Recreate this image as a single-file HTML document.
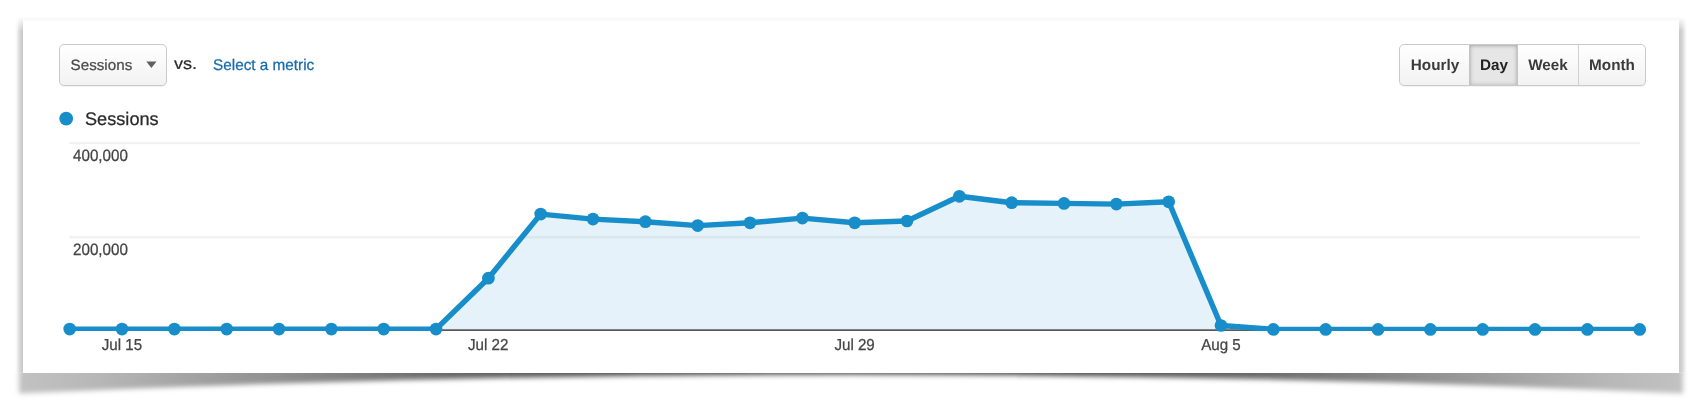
<!DOCTYPE html>
<html><head><meta charset="utf-8"><title>Sessions</title>
<style>
html,body{margin:0;padding:0;background:#fff;}
body{width:1698px;height:418px;position:relative;overflow:hidden;font-family:"Liberation Sans",sans-serif;}
.sh{position:absolute;}
.card{position:absolute;left:23px;top:20.8px;width:1656.2px;height:352.2px;background:#fff;}
.abs{position:absolute;white-space:nowrap;-webkit-text-stroke:0.25px currentColor;text-rendering:geometricPrecision;}
.btn{position:absolute;box-sizing:border-box;border:1px solid #cacaca;border-radius:5px;background:linear-gradient(#ffffff,#f2f2f2);box-shadow:0 1px 1px rgba(0,0,0,.06);}
.seg{position:absolute;top:0;height:100%;box-sizing:border-box;}
</style></head><body>
<svg class="sh" style="left:0;top:0" width="1698" height="418" viewBox="0 0 1698 418">
<defs>
<filter id="b1" x="-5%" y="-50%" width="110%" height="200%"><feGaussianBlur stdDeviation="2.4"/></filter>
<linearGradient id="sg" gradientUnits="userSpaceOnUse" x1="19" y1="0" x2="1683" y2="0">
<stop offset="0" stop-color="#c2c2c2"/><stop offset="0.05" stop-color="#b6b6b6"/><stop offset="0.17" stop-color="#8a8a8a"/><stop offset="0.26" stop-color="#686868"/><stop offset="0.36" stop-color="#505050"/><stop offset="0.5" stop-color="#484848"/>
<stop offset="0.64" stop-color="#505050"/><stop offset="0.74" stop-color="#686868"/><stop offset="0.83" stop-color="#8a8a8a"/><stop offset="0.95" stop-color="#b6b6b6"/><stop offset="1" stop-color="#c2c2c2"/>
</linearGradient>
<linearGradient id="lg" x1="0" y1="0" x2="1" y2="0"><stop offset="0" stop-color="#fff"/><stop offset="0.2" stop-color="#f6f6f6"/><stop offset="0.55" stop-color="#dadada"/><stop offset="1" stop-color="#c4c4c4"/></linearGradient>
<linearGradient id="rg" x1="1" y1="0" x2="0" y2="0"><stop offset="0" stop-color="#fff"/><stop offset="0.2" stop-color="#f6f6f6"/><stop offset="0.55" stop-color="#dadada"/><stop offset="1" stop-color="#c4c4c4"/></linearGradient>
<linearGradient id="vf" gradientUnits="userSpaceOnUse" x1="0" y1="17" x2="0" y2="31"><stop offset="0" stop-color="#000"/><stop offset="1" stop-color="#fff"/></linearGradient>
<linearGradient id="tg" x1="0" y1="0" x2="0" y2="1"><stop offset="0" stop-color="#fff"/><stop offset="0.25" stop-color="#fafafa"/><stop offset="0.75" stop-color="#f9f9f9"/><stop offset="1" stop-color="#fdfdfd"/></linearGradient>
<mask id="vm" maskUnits="userSpaceOnUse" x="0" y="0" width="1698" height="418"><rect x="0" y="0" width="1698" height="418" fill="url(#vf)"/></mask>
<clipPath id="cb"><rect x="0" y="372.5" width="1698" height="46"/></clipPath>
</defs>
<g mask="url(#vm)">
<rect x="15" y="16" width="8.2" height="356.5" fill="url(#lg)"/>
<rect x="1679.1" y="16" width="8.2" height="356.5" fill="url(#rg)"/>
</g>
<rect x="23" y="16.9" width="1656.2" height="4" fill="url(#tg)"/>
<g clip-path="url(#cb)"><path d="M19,340 L19,393.5 Q851,355.5 1683,393.5 L1683,340 Z" fill="url(#sg)" filter="url(#b1)"/></g>
</svg>
<div class="card"></div>

<div class="btn" style="left:59.3px;top:44px;width:107.7px;height:41.5px;"></div>
<svg class="abs" style="left:144px;top:60px" width="14" height="10" viewBox="0 0 14 10"><path d="M2.3,1.6 L12.5,1.6 L7.4,8 Z" fill="#606060"/></svg>

<div class="btn" style="left:1399px;top:44px;width:246.7px;height:41.5px;">
 <div class="seg" style="left:68.7px;width:49.3px;background:#e6e6e6;box-shadow:inset 0 0 5px rgba(0,0,0,.18),inset 0 1px 3px rgba(0,0,0,.15);border-left:1px solid #c4c4c4;border-right:1px solid #c4c4c4;"></div>
 <div class="seg" style="left:178px;width:1px;background:#d0d0d0;"></div>
</div>

<svg class="abs" style="left:0;top:0" width="1698" height="418" viewBox="0 0 1698 418">
<defs><clipPath id="lc"><rect x="0" y="0" width="1698" height="330.95"/></clipPath></defs>
<circle cx="66.2" cy="118.6" r="6.9" fill="#178dc9"/>
<rect x="69" y="141.9" width="1571" height="2.3" fill="#f2f2f2"/>
<rect x="69" y="236.1" width="1571" height="2.3" fill="#f2f2f2"/>
<path d="M69.7,329.5 L69.7,329.1 L122.0,329.1 L174.4,329.1 L226.7,329.1 L279.0,329.1 L331.4,329.1 L383.7,329.1 L436.0,329.1 L488.4,278.2 L540.7,214.1 L593.0,219.1 L645.4,221.7 L697.7,225.6 L750.0,222.8 L802.4,218.1 L854.7,222.8 L907.0,221.0 L959.4,196.3 L1011.7,202.7 L1064.0,203.4 L1116.4,204.1 L1168.7,201.8 L1221.0,325.5 L1273.4,329.4 L1325.7,329.4 L1378.0,329.4 L1430.4,329.4 L1482.7,329.4 L1535.0,329.4 L1587.4,329.4 L1639.7,329.4 L1639.7,329.5 Z" fill="#178dc9" fill-opacity="0.11"/>
<rect x="69" y="329.3" width="1571" height="1.65" fill="#505050"/>
<g clip-path="url(#lc)"><polyline points="69.7,329.1 122.0,329.1 174.4,329.1 226.7,329.1 279.0,329.1 331.4,329.1 383.7,329.1 436.0,329.1 488.4,278.2 540.7,214.1 593.0,219.1 645.4,221.7 697.7,225.6 750.0,222.8 802.4,218.1 854.7,222.8 907.0,221.0 959.4,196.3 1011.7,202.7 1064.0,203.4 1116.4,204.1 1168.7,201.8 1221.0,325.5 1273.4,329.4 1325.7,329.4 1378.0,329.4 1430.4,329.4 1482.7,329.4 1535.0,329.4 1587.4,329.4 1639.7,329.4" fill="none" stroke="#178dc9" stroke-width="5.45" stroke-linejoin="round" stroke-linecap="round"/></g>
<g fill="#178dc9"><circle cx="69.7" cy="329.1" r="6.35"/><circle cx="122.0" cy="329.1" r="6.35"/><circle cx="174.4" cy="329.1" r="6.35"/><circle cx="226.7" cy="329.1" r="6.35"/><circle cx="279.0" cy="329.1" r="6.35"/><circle cx="331.4" cy="329.1" r="6.35"/><circle cx="383.7" cy="329.1" r="6.35"/><circle cx="436.0" cy="329.1" r="6.35"/><circle cx="488.4" cy="278.2" r="6.35"/><circle cx="540.7" cy="214.1" r="6.35"/><circle cx="593.0" cy="219.1" r="6.35"/><circle cx="645.4" cy="221.7" r="6.35"/><circle cx="697.7" cy="225.6" r="6.35"/><circle cx="750.0" cy="222.8" r="6.35"/><circle cx="802.4" cy="218.1" r="6.35"/><circle cx="854.7" cy="222.8" r="6.35"/><circle cx="907.0" cy="221.0" r="6.35"/><circle cx="959.4" cy="196.3" r="6.35"/><circle cx="1011.7" cy="202.7" r="6.35"/><circle cx="1064.0" cy="203.4" r="6.35"/><circle cx="1116.4" cy="204.1" r="6.35"/><circle cx="1168.7" cy="201.8" r="6.35"/><circle cx="1221.0" cy="325.5" r="6.35"/><circle cx="1273.4" cy="329.4" r="6.35"/><circle cx="1325.7" cy="329.4" r="6.35"/><circle cx="1378.0" cy="329.4" r="6.35"/><circle cx="1430.4" cy="329.4" r="6.35"/><circle cx="1482.7" cy="329.4" r="6.35"/><circle cx="1535.0" cy="329.4" r="6.35"/><circle cx="1587.4" cy="329.4" r="6.35"/><circle cx="1639.7" cy="329.4" r="6.35"/></g>
</svg>
<div class="abs" style="left:70.6px;top:54.03px;font-size:15.2px;line-height:24px;color:#4a4a4a;font-weight:normal;transform:scale(1.0,0.98);transform-origin:0 17.27px;">Sessions</div>
<div class="abs" style="left:173.7px;top:50.90px;font-size:17.6px;line-height:24px;color:#2c2c2c;font-weight:normal;transform:scale(1.03,0.92);transform-origin:0 18.10px;">vs.</div>
<div class="abs" style="left:212.9px;top:54.25px;font-size:15.3px;line-height:24px;color:#186bab;font-weight:normal;transform:scale(1.001,1.01);transform-origin:0 17.30px;">Select a metric</div>
<div class="abs" style="left:85.0px;top:107.11px;font-size:18.15px;line-height:24px;color:#2a2a2a;font-weight:normal;transform:scale(1.001,1.0);transform-origin:0 18.29px;">Sessions</div>
<div class="abs" style="left:73px;top:145.03px;font-size:15.2px;line-height:24px;color:#444;font-weight:normal;transform:scale(1.0,1.08);transform-origin:0 17.27px;">400,000</div>
<div class="abs" style="left:73px;top:238.63px;font-size:15.2px;line-height:24px;color:#444;font-weight:normal;transform:scale(1.0,1.08);transform-origin:0 17.27px;">200,000</div>
<div class="abs" style="left:61.900000000000006px;width:120px;text-align:center;top:333.65px;font-size:15.15px;line-height:24px;color:#444;font-weight:normal;transform:scale(1.0,1.05);transform-origin:60px 17.25px;">Jul 15</div>
<div class="abs" style="left:428.2px;width:120px;text-align:center;top:333.65px;font-size:15.15px;line-height:24px;color:#444;font-weight:normal;transform:scale(1.0,1.05);transform-origin:60px 17.25px;">Jul 22</div>
<div class="abs" style="left:794.6px;width:120px;text-align:center;top:333.65px;font-size:15.15px;line-height:24px;color:#444;font-weight:normal;transform:scale(1.0,1.05);transform-origin:60px 17.25px;">Jul 29</div>
<div class="abs" style="left:1161px;width:120px;text-align:center;top:333.65px;font-size:15.15px;line-height:24px;color:#444;font-weight:normal;transform:scale(1.0,1.05);transform-origin:60px 17.25px;">Aug 5</div>
<div class="abs" style="left:1374.8px;width:120px;text-align:center;top:54.27px;font-size:15.25px;line-height:24px;color:#3a3a3a;font-weight:bold;transform:scale(1.001,1.01);transform-origin:60px 17.28px;-webkit-text-stroke:0;">Hourly</div>
<div class="abs" style="left:1433.6px;width:120px;text-align:center;top:54.27px;font-size:15.25px;line-height:24px;color:#222;font-weight:bold;transform:scale(1.001,1.01);transform-origin:60px 17.28px;-webkit-text-stroke:0;">Day</div>
<div class="abs" style="left:1488.3px;width:120px;text-align:center;top:54.27px;font-size:15.25px;line-height:24px;color:#3a3a3a;font-weight:bold;transform:scale(1.001,1.01);transform-origin:60px 17.28px;-webkit-text-stroke:0;">Week</div>
<div class="abs" style="left:1552.1px;width:120px;text-align:center;top:54.27px;font-size:15.25px;line-height:24px;color:#3a3a3a;font-weight:bold;transform:scale(1.001,1.01);transform-origin:60px 17.28px;-webkit-text-stroke:0;">Month</div>
</body></html>
